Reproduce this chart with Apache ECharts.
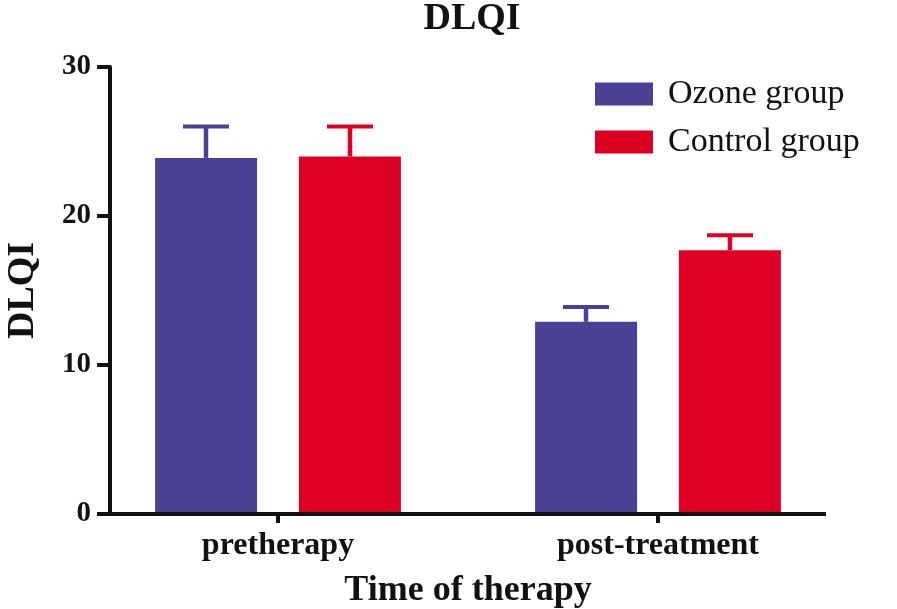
<!DOCTYPE html>
<html>
<head>
<meta charset="utf-8">
<title>DLQI</title>
<script src="https://cdn.jsdelivr.net/npm/echarts@6/dist/echarts.min.js"></script>
<style>
  html, body { margin: 0; padding: 0; background: #fff; }
  #main { width: 897px; height: 609px; }
</style>
</head>
<body>
<div id="main"></div>
<script>
// data
var categories = ['pretherapy', 'post-treatment'];
var groupNames = ['Ozone group', 'Control group'];
var ozoneMean = [23.9, 12.9];
var ozoneErr = [2.1, 1.0];
var controlMean = [24.0, 17.7];
var controlErr = [2.0, 1.0];
var yTicks = [0, 10, 20, 30];

var BLUE = '#4a4194';
var RED = '#de0022';
var FONT = '"Liberation Serif", "Times New Roman", serif';
var BAR_W = 102;
var BAR_GAP = 42;

var myChart = echarts.init(document.getElementById('main'));

// error bar (upper only) drawn next to each bar
function errorItem(shift, color) {
	return function (params, api) {
		var cat = api.value(0);
		var base = api.coord([cat, api.value(1)]);
		var top = api.coord([cat, api.value(2)]);
		var x = base[0] + shift;
		return {
			type: 'group',
			children: [
				{ type: 'line', shape: { x1: x, y1: base[1], x2: x, y2: top[1] },
				  style: { stroke: color, lineWidth: 4.5 } },
				{ type: 'line', shape: { x1: x - 23, y1: top[1], x2: x + 23, y2: top[1] },
				  style: { stroke: color, lineWidth: 4 } }
			]
		};
	};
}

function errData(mean, err) {
	return mean.map(function (m, i) { return [i, m, m + err[i]]; });
}

var shift = (BAR_W + BAR_GAP) / 2;

var option = {
	animation: false,
	title: {
		text: 'DLQI',
		left: 467,
		textAlign: 'center',
		top: -5,
		textStyle: { fontFamily: FONT, fontSize: 38, fontWeight: 'bold', color: '#111' }
	},
	legend: {
		orient: 'vertical',
		left: 590,
		top: 72,
		itemWidth: 58,
		itemHeight: 23,
		itemGap: 14,
		icon: 'rect',
		data: groupNames,
		textStyle: { fontFamily: FONT, fontSize: 34, color: '#111', padding: [0, 0, 0, 10] }
	},
	grid: { left: 88, right: 49, top: 67, bottom: 95, containLabel: false, outerBoundsMode: 'none' },
	xAxis: {
		type: 'category',
		data: categories,
		name: 'Time of therapy',
		nameLocation: 'middle',
		nameGap: 59,
		nameTextStyle: { fontFamily: FONT, fontSize: 36, fontWeight: 'bold', color: '#111' },
		axisLine: { show: false },
		axisTick: { show: true, alignWithLabel: true, length: 9, lineStyle: { color: '#111', width: 4 } },
		axisLabel: { fontFamily: FONT, fontSize: 32, fontWeight: 'bold', color: '#111', margin: 16 }
	},
	yAxis: {
		type: 'value',
		min: yTicks[0],
		max: yTicks[yTicks.length - 1],
		interval: 10,
		offset: -22,
		name: 'DLQI',
		nameLocation: 'middle',
		nameRotate: 90,
		nameGap: 68,
		nameTextStyle: { fontFamily: FONT, fontSize: 38, fontWeight: 'bold', color: '#111' },
		splitLine: { show: false },
		axisLine: { show: true, lineStyle: { color: '#111', width: 4 } },
		axisTick: { show: true, length: 13, lineStyle: { color: '#111', width: 4 } },
		axisLabel: { fontFamily: FONT, fontSize: 29, fontWeight: 'bold', color: '#111', margin: 19 }
	},
	// x axis line is shorter than the category band, drawn by hand
	graphic: [{
		type: 'line',
		shape: { x1: 108, y1: 514, x2: 826, y2: 514 },
		style: { stroke: '#111', lineWidth: 4 },
		z: 10
	}],
	series: [
		{
			name: groupNames[0], type: 'bar', data: ozoneMean,
			barWidth: BAR_W, barGap: (BAR_GAP / BAR_W * 100).toFixed(0) + '%',
			itemStyle: { color: BLUE }
		},
		{
			name: groupNames[1], type: 'bar', data: controlMean,
			barWidth: BAR_W,
			itemStyle: { color: RED }
		},
		{
			name: groupNames[0], type: 'custom', data: errData(ozoneMean, ozoneErr),
			renderItem: errorItem(-shift, BLUE), z: 5, silent: true
		},
		{
			name: groupNames[1], type: 'custom', data: errData(controlMean, controlErr),
			renderItem: errorItem(shift, RED), z: 5, silent: true
		}
	]
};

myChart.setOption(option, true);
</script>
</body>
</html>
